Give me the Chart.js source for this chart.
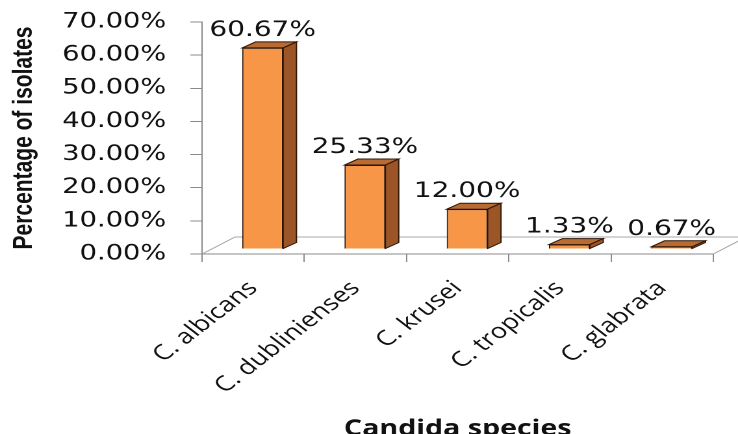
<!DOCTYPE html>
<html>
<head>
<meta charset="utf-8">
<script src="https://cdn.jsdelivr.net/npm/chart.js@4/dist/chart.umd.min.js"></script>
<style>
  html, body { margin: 0; padding: 0; background: #ffffff; overflow: hidden; }
  /* the chart is laid out narrow and widened, giving the broad lettering */
  #wrap { position: absolute; left: 0; top: 0; width: 568px; height: 434px;
          transform: scaleX(1.2993); transform-origin: 0 0; }
  canvas { display: block; }
</style>
</head>
<body>
<div id="wrap"><canvas id="chart" width="568" height="434"></canvas></div>
<script>
// Candida species isolated and their share of all isolates (%)
const species = ['C. albicans', 'C. dublinienses', 'C. krusei', 'C. tropicalis', 'C. glabrata'];
const isolatePercent = [60.67, 25.33, 12.00, 1.33, 0.67];
const yTickValues = [0, 10, 20, 30, 40, 50, 60, 70];

// 3-D look: bar front plane sits inside the floor, bars have depth
const FRONT = { dx: 7.3, dy: -5 };
const DEPTH = { dx: 10.3, dy: -6 };
const FLOOR = { dx: 25.4, dy: -17 };
const FACE_TOP = '#b96b34';
const FACE_SIDE = '#9b5527';
const EDGE = '#2e1607';

const pct = v => Number(v).toFixed(2) + '%';

const box3d = {
  id: 'box3d',
  beforeDatasetsDraw(chart) {
    const { ctx, scales: { x, y } } = chart;
    const y0 = y.getPixelForValue(0);
    ctx.save();
    // floor outline
    ctx.strokeStyle = '#a8a8a8';
    ctx.lineWidth = 1;
    ctx.beginPath();
    ctx.moveTo(x.left, y0);
    ctx.lineTo(x.left + FLOOR.dx, y0 + FLOOR.dy);
    ctx.lineTo(x.right + FLOOR.dx, y0 + FLOOR.dy);
    ctx.lineTo(x.right, y0);
    ctx.stroke();

    // shift to the bars' front plane; the bar controller draws the front faces here
    ctx.translate(FRONT.dx, FRONT.dy);
    ctx.lineWidth = 1;
    ctx.strokeStyle = EDGE;
    chart.getDatasetMeta(0).data.forEach(bar => {
      const { x: cx, y: top, base, width } = bar.getProps(['x', 'y', 'base', 'width'], true);
      const l = cx - width / 2, r = cx + width / 2;
      // top face
      ctx.beginPath();
      ctx.moveTo(l, top);
      ctx.lineTo(l + DEPTH.dx, top + DEPTH.dy);
      ctx.lineTo(r + DEPTH.dx, top + DEPTH.dy);
      ctx.lineTo(r, top);
      ctx.closePath();
      ctx.fillStyle = FACE_TOP;
      ctx.fill();
      ctx.stroke();
      // right side face
      ctx.beginPath();
      ctx.moveTo(r, top);
      ctx.lineTo(r + DEPTH.dx, top + DEPTH.dy);
      ctx.lineTo(r + DEPTH.dx, base + DEPTH.dy);
      ctx.lineTo(r, base);
      ctx.closePath();
      ctx.fillStyle = FACE_SIDE;
      ctx.fill();
      ctx.stroke();
    });
  },
  afterDatasetsDraw(chart) {
    const { ctx } = chart;
    ctx.restore();
    // value labels above each bar
    ctx.save();
    ctx.fillStyle = '#111111';
    ctx.font = '21.5px "DejaVu Sans", Verdana, sans-serif';
    ctx.textAlign = 'center';
    ctx.textBaseline = 'alphabetic';
    const ds = chart.data.datasets[0];
    chart.getDatasetMeta(0).data.forEach((bar, i) => {
      const { x: cx, y: top } = bar.getProps(['x', 'y'], true);
      ctx.fillText(pct(ds.data[i]), cx + FRONT.dx, top + FRONT.dy - 12);
    });
    ctx.restore();
  }
};

new Chart(document.getElementById('chart'), {
  type: 'bar',
  data: {
    labels: species,
    datasets: [{
      data: isolatePercent,
      backgroundColor: '#f79646',
      borderColor: EDGE,
      borderWidth: 1,
      barPercentage: 0.4,
      categoryPercentage: 1,
      clip: false
    }]
  },
  options: {
    responsive: false,
    devicePixelRatio: 2,
    animation: false,
    layout: { padding: { left: 0, right: 19, top: 22, bottom: 0 } },
    plugins: { legend: { display: false }, tooltip: { enabled: false } },
    scales: {
      x: {
        offset: true,
        grid: { display: true, drawOnChartArea: false, drawTicks: true, tickLength: 8, color: '#8a8a8a', offset: true },
        border: { display: true, color: '#8a8a8a', width: 1 },
        ticks: {
          autoSkip: false, minRotation: 45, maxRotation: 45, padding: 14, labelOffset: 0,
          color: '#111111', font: { family: '"Open Sans", sans-serif', size: 21 }
        },
        title: {
          display: true, text: 'Candida species', color: '#111111',
          font: { family: '"Open Sans", sans-serif', size: 22, weight: 'bold', lineHeight: 1 },
          padding: { top: 0, bottom: -6 }
        },
        afterFit(scale) { scale.height = 180; }
      },
      y: {
        min: 0, max: 70,
        afterBuildTicks(scale) { scale.ticks = yTickValues.map(v => ({ value: v })); },
        grid: { drawOnChartArea: false, drawTicks: true, tickLength: 9, color: '#8a8a8a' },
        border: { display: true, color: '#8a8a8a', width: 1 },
        ticks: {
          padding: 18.5, color: '#111111',
          font: { family: '"DejaVu Sans", Verdana, sans-serif', size: 21 },
          callback: v => pct(v)
        },
        title: {
          display: true, text: 'Percentage of isolates', color: '#111111',
          font: { family: '"Liberation Sans", Arial, sans-serif', size: 21, weight: 'bold', lineHeight: 1.2 },
          padding: { top: 6, bottom: 0 }
        },
        afterFit(scale) {
          scale.width = 155.5;
          // label gap is horizontal only; keep it out of the vertical margins
          scale.paddingTop = 0;
          scale.paddingBottom = 0;
        }
      }
    }
  },
  plugins: [box3d]
});
</script>
</body>
</html>
